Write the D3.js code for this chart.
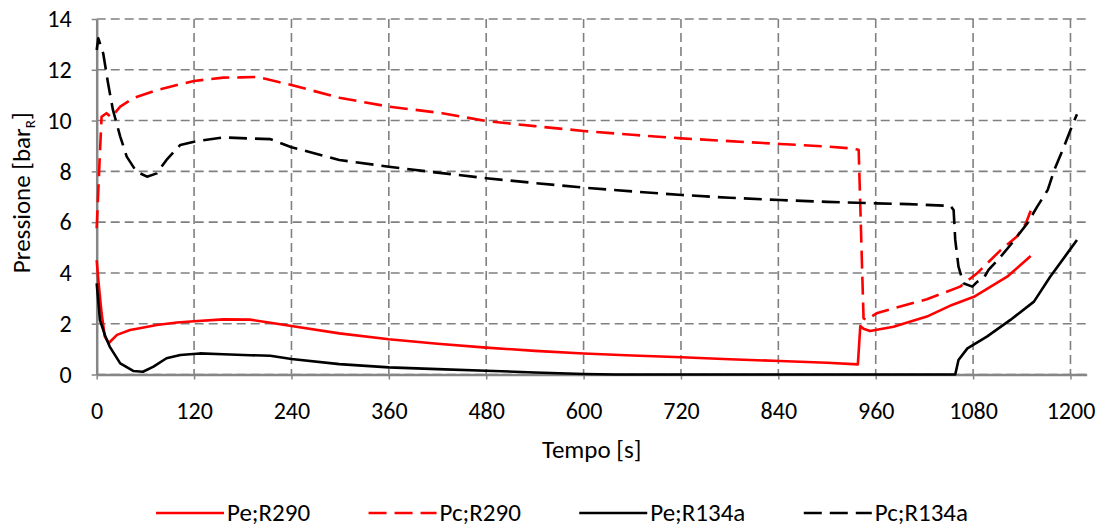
<!DOCTYPE html>
<html lang="it">
<head>
<meta charset="utf-8">
<title>Pressione</title>
<script src="https://d3js.org/d3.v7.min.js"></script>
<style>
  body { margin: 0; background: #fff; }
  text { font-family: Carlito, Lato, sans-serif; fill: #000; }
</style>
</head>
<body>
<div id="chart"></div>
<script>
// tick values
var xTicks = [0, 120, 240, 360, 480, 600, 720, 840, 960, 1080, 1200];
var yTicks = [0, 2, 4, 6, 8, 10, 12, 14];

// Pe;R290 (red, solid)
var peR290T = [0, 2, 6, 10, 15, 25, 41, 53, 74, 99, 120, 156, 189, 214, 240, 299, 360, 420, 480, 540, 600, 660, 721, 780, 842, 900, 938, 941, 945, 953, 982, 1023, 1054, 1081, 1122, 1151];
var peR290P = [4.5, 3.72, 2.42, 1.49, 1.24, 1.56, 1.75, 1.82, 1.95, 2.05, 2.1, 2.17, 2.16, 2.04, 1.91, 1.62, 1.39, 1.21, 1.06, 0.93, 0.83, 0.75, 0.68, 0.6, 0.53, 0.46, 0.4, 1.91, 1.8, 1.71, 1.88, 2.28, 2.74, 3.06, 3.85, 4.67];

// Pc;R290 (red, dashed)
var pcR290T = [0, 3, 6, 12, 18, 29, 45, 74, 99, 120, 156, 177, 197, 214, 240, 299, 360, 426, 480, 540, 600, 660, 721, 780, 842, 900, 928, 939, 945, 949, 961, 982, 1023, 1064, 1085, 1114, 1134, 1145, 1151];
var pcR290P = [5.76, 8.0, 10.15, 10.29, 10.13, 10.55, 10.88, 11.2, 11.4, 11.56, 11.69, 11.7, 11.72, 11.6, 11.4, 10.9, 10.55, 10.29, 9.98, 9.78, 9.59, 9.44, 9.3, 9.19, 9.08, 8.98, 8.91, 8.85, 2.21, 2.15, 2.41, 2.61, 2.96, 3.46, 3.99, 4.9, 5.43, 5.95, 6.45];

// Pe;R134a (black, solid)
var peR134aT = [0, 4, 10, 16, 29, 45, 57, 70, 86, 103, 127, 156, 189, 214, 240, 299, 360, 420, 480, 540, 600, 640, 1000, 1058, 1062, 1073, 1097, 1126, 1155, 1175, 1196, 1208];
var peR134aP = [3.59, 2.15, 1.56, 1.1, 0.44, 0.14, 0.11, 0.31, 0.64, 0.77, 0.83, 0.8, 0.76, 0.74, 0.61, 0.41, 0.28, 0.21, 0.15, 0.08, 0.02, 0, 0, 0, 0.57, 1.03, 1.49, 2.15, 2.87, 3.85, 4.77, 5.3];

// Pc;R134a (black, dashed)
var pcR134aT = [0, 2, 8, 14, 20, 29, 37, 49, 62, 74, 86, 103, 120, 156, 185, 214, 240, 299, 360, 420, 480, 540, 600, 660, 721, 780, 842, 900, 961, 1000, 1052, 1056, 1058, 1062, 1068, 1079, 1085, 1093, 1099, 1114, 1126, 1147, 1159, 1172, 1180, 1192, 1200, 1208];
var pcR134aP = [12.78, 13.24, 12.65, 11.47, 10.42, 9.37, 8.58, 7.99, 7.79, 7.92, 8.45, 9.04, 9.17, 9.34, 9.3, 9.27, 8.95, 8.45, 8.18, 7.95, 7.73, 7.54, 7.36, 7.21, 7.07, 6.96, 6.87, 6.8, 6.74, 6.71, 6.64, 6.48, 5.3, 4.25, 3.59, 3.46, 3.65, 3.79, 4.12, 4.64, 5.1, 5.96, 6.61, 7.27, 8.05, 8.97, 9.63, 10.25];

var seriesNames = ["Pe;R290", "Pc;R290", "Pe;R134a", "Pc;R134a"];
var series = [
  {name: seriesNames[0], t: peR290T, p: peR290P, color: "#ff0000", dash: null},
  {name: seriesNames[1], t: pcR290T, p: pcR290P, color: "#ff0000", dash: "18,8"},
  {name: seriesNames[2], t: peR134aT, p: peR134aP, color: "#000000", dash: null},
  {name: seriesNames[3], t: pcR134aT, p: pcR134aP, color: "#000000", dash: "18,8"}
];

var W = 1106, H = 530;
var margin = {top: 19, right: 19.3, bottom: 155.5, left: 96.7};
var width = W - margin.left - margin.right,
    height = H - margin.top - margin.bottom;

var svg = d3.select("#chart").append("svg")
    .attr("width", W).attr("height", H);
var g = svg.append("g")
    .attr("transform", "translate(" + margin.left + "," + margin.top + ")");

var x = d3.scaleLinear().domain([0, 1220]).range([0, width]);
var y = d3.scaleLinear().domain([0, 14]).range([height, 0]);

var gridColor = "#808080";

// gridlines
g.append("g").selectAll("line").data(yTicks).enter().append("line")
  .attr("x1", 0).attr("x2", width)
  .attr("y1", function(d) { return y(d); }).attr("y2", function(d) { return y(d); })
  .attr("stroke", gridColor).attr("stroke-width", 1.6)
  .attr("stroke-dasharray", "9,5");
g.append("g").selectAll("line").data(xTicks.slice(1)).enter().append("line")
  .attr("x1", function(d) { return x(d); }).attr("x2", function(d) { return x(d); })
  .attr("y1", 0).attr("y2", height)
  .attr("stroke", gridColor).attr("stroke-width", 1.6)
  .attr("stroke-dasharray", "9,5");

// axes
var fmt = d3.format("d");
var xAxis = g.append("g")
  .attr("transform", "translate(0," + height + ")")
  .call(d3.axisBottom(x).tickValues(xTicks).tickFormat(fmt).tickSize(5).tickPadding(22).tickSizeOuter(0));
var yAxis = g.append("g")
  .call(d3.axisLeft(y).tickValues(yTicks).tickFormat(fmt).tickSize(5).tickPadding(20).tickSizeOuter(0));

[xAxis, yAxis].forEach(function(a) {
  a.select(".domain").attr("stroke", "#868686").attr("stroke-width", 2.5);
  a.selectAll(".tick line").attr("stroke", "#868686").attr("stroke-width", 1.5);
  a.selectAll(".tick text").style("font-size", "24px").attr("fill", "#000");
  a.attr("font-family", null);
});

// series lines
var line = d3.line()
  .x(function(d) { return x(d[0]); })
  .y(function(d) { return y(d[1]); });

series.forEach(function(s) {
  var pts = s.t.map(function(t, i) { return [t, s.p[i]]; });
  g.append("path")
    .datum(pts)
    .attr("d", line)
    .attr("fill", "none")
    .attr("stroke", s.color)
    .attr("stroke-width", 2.6)
    .attr("stroke-linejoin", "round")
    .attr("stroke-dasharray", s.dash);
});

// axis titles
svg.append("text")
  .attr("x", margin.left + width / 2)
  .attr("y", 458)
  .attr("text-anchor", "middle")
  .style("font-size", "25px")
  .text("Tempo [s]");

var yt = svg.append("text")
  .attr("transform", "translate(30," + (margin.top + height / 2 - 4) + ") rotate(-90)")
  .attr("text-anchor", "middle")
  .style("font-size", "25px");
yt.append("tspan").text("Pressione [bar");
yt.append("tspan").attr("dy", 5).style("font-size", "15px").text("R");
yt.append("tspan").attr("dy", -5).text("]");

// legend: spread items between the same left and right edges as the original
var legend = svg.append("g").attr("transform", "translate(156,513)");
var items = series.map(function(s) {
  var item = legend.append("g");
  item.append("line")
    .attr("x1", 0).attr("x2", 68).attr("y1", 0).attr("y2", 0)
    .attr("stroke", s.color).attr("stroke-width", 2.6)
    .attr("stroke-dasharray", s.dash);
  var t = item.append("text")
    .attr("x", 71).attr("y", 8)
    .style("font-size", "25px")
    .text(s.name);
  return {g: item, w: 71 + t.node().getComputedTextLength()};
});
var totalW = d3.sum(items, function(d) { return d.w; });
var gap = (968 - 156 - totalW) / (items.length - 1);
var lx = 0;
items.forEach(function(it) {
  it.g.attr("transform", "translate(" + lx + ",0)");
  lx += it.w + gap;
});
</script>
</body>
</html>
